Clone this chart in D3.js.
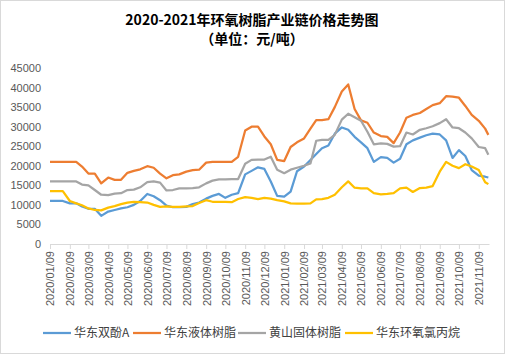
<!DOCTYPE html>
<html>
<head>
<meta charset="utf-8">
<script src="https://cdn.jsdelivr.net/npm/d3@7"></script>
<style>
  body { margin: 0; background: #fff; }
  text { font-family: "Liberation Sans", "Noto Sans CJK SC", sans-serif; }
  .cjk { font-family: "Noto Sans CJK SC", sans-serif; }
</style>
</head>
<body>
<div id="chart"></div>
<script>
'use strict';

const width = 505,
      height = 354,
      margin = {top: 68, bottom: 110, right: 16, left: 50};

const title = "2020-2021年环氧树脂产业链价格走势图";
const subtitle = "（单位：元/吨）";

const seriesNames = ["华东双酚A", "华东液体树脂", "黄山固体树脂", "华东环氧氯丙烷"];
const seriesColors = ["#5B9BD5", "#ED7D31", "#A5A5A5", "#FFC000"];

const yTicks = [0, 5000, 10000, 15000, 20000, 25000, 30000, 35000, 40000, 45000];

const tickLabels = [
  "2020/01/09", "2020/02/09", "2020/03/09", "2020/04/09", "2020/05/09", "2020/06/09",
  "2020/07/09", "2020/08/09", "2020/09/09", "2020/10/09", "2020/11/09", "2020/12/09",
  "2021/01/09", "2021/02/09", "2021/03/09", "2021/04/09", "2021/05/09", "2021/06/09",
  "2021/07/09", "2021/08/09", "2021/09/09", "2021/10/09", "2021/11/09"
];

const dates = [
  "2020-01-09", "2020-01-19", "2020-01-29", "2020-02-09", "2020-02-19", "2020-02-28",
  "2020-03-09", "2020-03-19", "2020-03-29", "2020-04-09", "2020-04-19", "2020-04-29",
  "2020-05-09", "2020-05-19", "2020-05-29", "2020-06-09", "2020-06-19", "2020-06-29",
  "2020-07-09", "2020-07-19", "2020-07-29", "2020-08-09", "2020-08-19", "2020-08-29",
  "2020-09-09", "2020-09-19", "2020-09-29", "2020-10-09", "2020-10-19", "2020-10-29",
  "2020-11-09", "2020-11-19", "2020-11-29", "2020-12-09", "2020-12-19", "2020-12-29",
  "2021-01-09", "2021-01-19", "2021-01-29", "2021-02-09", "2021-02-19", "2021-02-28",
  "2021-03-09", "2021-03-19", "2021-03-29", "2021-04-09", "2021-04-19", "2021-04-29",
  "2021-05-09", "2021-05-19", "2021-05-29", "2021-06-09", "2021-06-19", "2021-06-29",
  "2021-07-09", "2021-07-19", "2021-07-29", "2021-08-09", "2021-08-19", "2021-08-29",
  "2021-09-09", "2021-09-19", "2021-09-29", "2021-10-09", "2021-10-19", "2021-10-29",
  "2021-11-09", "2021-11-19", "2021-11-24"
];

// 华东双酚A
const bpa = [
  11000, 11000, 11000, 10400, 10400, 9600, 9000, 9000, 7200, 8300, 8700, 9100,
  9400, 10000, 11000, 12800, 12200, 11200, 9800, 9400, 9400, 9500, 10200, 10600,
  11600, 12300, 12800, 11800, 12600, 13000, 17800, 18700, 19600, 19200, 16000, 12300,
  12100, 13400, 18600, 19800, 21500, 23000, 24500, 25200, 28200, 29800, 29200, 27400,
  26000, 24500, 21000, 22200, 22000, 20800, 21800, 25500, 26500, 27200, 27800, 28200,
  28000, 26500, 22000, 24000, 22500, 18900, 17500, 17200, 17000
];

// 华东液体树脂
const liquidResin = [
  21000, 21000, 21000, 21000, 21000, 19800, 18000, 18000, 15500, 17000, 16400, 16400,
  18200, 18700, 19100, 19900, 19500, 18000, 16800, 17600, 17800, 18500, 18900, 19000,
  20800, 21000, 21000, 21000, 21000, 22300, 29000, 30000, 30000, 27500, 25500, 21500,
  21200, 24800, 26000, 27000, 29500, 31700, 31700, 31900, 35000, 39000, 40800, 34500,
  31600, 31000, 28500, 27600, 27400, 25800, 28500, 32300, 33000, 33500, 34500, 35500,
  36000, 37800, 37700, 37400, 35300, 33000, 31500, 29500, 27900
];

// 黄山固体树脂
const solidResin = [
  16000, 16000, 16000, 16000, 16000, 15200, 15000, 13800, 12600, 12500, 12900, 13000,
  13800, 13900, 14500, 15800, 16000, 15700, 13700, 13800, 14200, 14200, 14300, 14500,
  15500, 16200, 16500, 16500, 16600, 16600, 20500, 21500, 21600, 21600, 22300, 19000,
  18100, 19000, 19500, 20000, 20600, 26400, 26600, 26600, 27900, 31800, 33300, 32400,
  31500, 28700, 25500, 25700, 25600, 24900, 25000, 28500, 28000, 29200, 29600, 30100,
  30900, 31900, 29800, 29600, 28500, 27000, 24800, 24500, 22800
];

// 华东环氧氯丙烷
const ech = [
  13500, 13500, 13500, 11000, 10400, 9900, 9100, 8700, 8600, 9300, 9700, 10200,
  10600, 10800, 10700, 10600, 10000, 9500, 9600, 9500, 9500, 9600, 9700, 10500,
  11200, 10800, 10800, 10800, 10700, 11500, 12000, 11800, 11500, 11800, 11600, 11200,
  10900, 10400, 10300, 10300, 10400, 11400, 11500, 11800, 12600, 14500, 16000, 14400,
  14200, 14200, 13000, 12700, 12800, 13000, 14200, 14400, 13300, 14300, 14400, 14800,
  18500, 21000, 20000, 19400, 20400, 19800, 18900, 15800, 15300
];

const seriesValues = [bpa, liquidResin, solidResin, ech];

const parseDate = d3.timeParse("%Y-%m-%d");
const parseTick = d3.timeParse("%Y/%m/%d");

const series = seriesNames.map((name, i) => ({
  name: name,
  color: seriesColors[i],
  values: dates.map((d, j) => ({date: parseDate(d), value: seriesValues[i][j]}))
}));

const svg = d3.select("#chart")
  .append("svg")
  .attr("width", width)
  .attr("height", height);

svg.append("rect")
  .attr("x", 0.5).attr("y", 0.5)
  .attr("width", width - 1).attr("height", height - 1)
  .attr("fill", "#fff")
  .attr("stroke", "#d9d9d9");

const xScale = d3.scaleTime()
  .domain([parseDate("2020-01-09"), parseDate("2021-11-25")])
  .range([margin.left, width - margin.right]);

const yScale = d3.scaleLinear()
  .domain([0, 45000])
  .range([244, margin.top]);

// titles
svg.append("text")
  .attr("class", "cjk")
  .attr("x", 252).attr("y", 25)
  .attr("text-anchor", "middle")
  .attr("font-size", 14)
  .attr("font-weight", "bold")
  .attr("fill", "#000")
  .text(title);

svg.append("text")
  .attr("class", "cjk")
  .attr("x", 252).attr("y", 44)
  .attr("text-anchor", "middle")
  .attr("font-size", 14)
  .attr("font-weight", "bold")
  .attr("fill", "#000")
  .text(subtitle);

// y axis
const yAxis = d3.axisLeft(yScale)
  .tickValues(yTicks)
  .tickSize(0)
  .tickPadding(9)
  .tickFormat(d3.format("d"));

svg.append("g")
  .attr("class", "axis y-axis")
  .attr("transform", `translate(${margin.left}, 0)`)
  .call(yAxis)
  .call(g => g.select(".domain").remove())
  .call(g => g.selectAll("text")
    .attr("font-size", 11)
    .attr("font-family", "Liberation Sans, sans-serif")
    .attr("fill", "#595959"));

// x axis
const xAxis = d3.axisBottom(xScale)
  .tickValues(tickLabels.map(parseTick))
  .tickSize(5)
  .tickSizeOuter(0)
  .tickFormat(d3.timeFormat("%Y/%m/%d"));

svg.append("g")
  .attr("class", "axis x-axis")
  .attr("transform", `translate(0, ${yScale(0)})`)
  .call(xAxis)
  .call(g => g.select(".domain").attr("stroke", "#d9d9d9"))
  .call(g => g.selectAll(".tick line").attr("stroke", "#d9d9d9"))
  .call(g => g.selectAll("text")
    .attr("font-size", 11)
    .attr("font-family", "Liberation Sans, sans-serif")
    .attr("fill", "#595959")
    .attr("text-anchor", "end")
    .attr("transform", "rotate(-90)")
    .attr("x", -7)
    .attr("y", 0)
    .attr("dy", "0.35em"));

// lines
const line = d3.line()
  .x(d => xScale(d.date))
  .y(d => yScale(d.value));

svg.append("g")
  .selectAll("path")
  .data(series)
  .join("path")
  .attr("fill", "none")
  .attr("stroke", d => d.color)
  .attr("stroke-width", 2.25)
  .attr("stroke-linejoin", "round")
  .attr("d", d => line(d.values));

// legend
const legendX = [43, 133, 238, 345];

const legend = svg.append("g")
  .selectAll("g")
  .data(series)
  .join("g")
  .attr("transform", (d, i) => `translate(${legendX[i]}, 333)`);

legend.append("line")
  .attr("x1", 0).attr("x2", 28)
  .attr("stroke", d => d.color)
  .attr("stroke-width", 2.25);

legend.append("text")
  .attr("class", "cjk")
  .attr("x", 31)
  .attr("dy", "0.35em")
  .attr("font-size", 12)
  .attr("fill", "#404040")
  .text(d => d.name);
</script>
</body>
</html>
